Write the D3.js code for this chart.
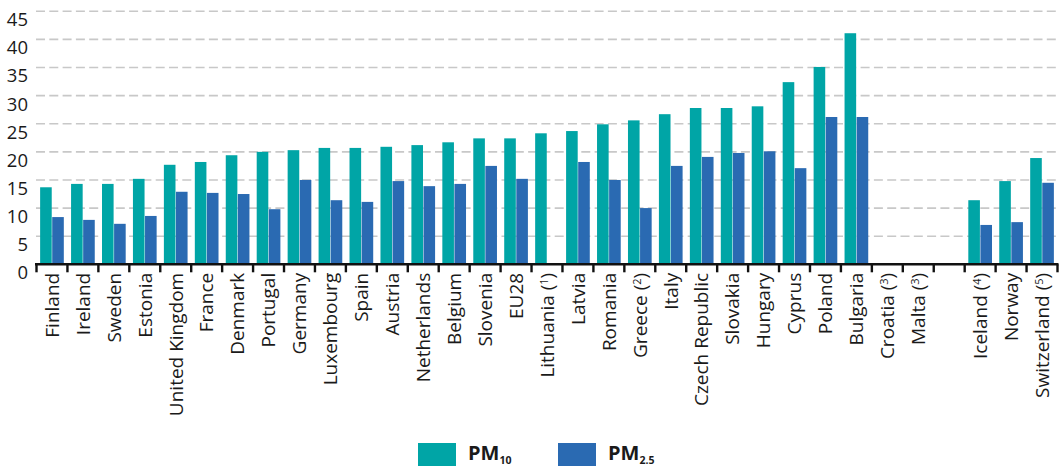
<!DOCTYPE html>
<html>
<head>
<meta charset="utf-8">
<script src="https://cdn.jsdelivr.net/npm/d3@7"></script>
<style>
  html, body { margin: 0; padding: 0; background: #fff; }
  svg { display: block; }
  text { font-family: "Open Sans", "Noto Sans", sans-serif; fill: #1a1a1a; }
</style>
</head>
<body>
<svg id="chart" width="1059" height="466"></svg>
<script>
// ---- data ----
const categories = ["Finland", "Ireland", "Sweden", "Estonia", "United Kingdom", "France", "Denmark",
  "Portugal", "Germany", "Luxembourg", "Spain", "Austria", "Netherlands", "Belgium", "Slovenia", "EU28",
  "Lithuania", "Latvia", "Romania", "Greece", "Italy", "Czech Republic", "Slovakia", "Hungary", "Cyprus",
  "Poland", "Bulgaria", "Croatia", "Malta", "", "Iceland", "Norway", "Switzerland"];
const noteMarks = ["", "", "", "", "", "", "", "", "", "", "", "", "", "", "", "",
  "1", "", "", "2", "", "", "", "", "", "", "", "3", "3", "", "4", "", "5"];
const pm10 = [13.7, 14.3, 14.3, 15.2, 17.7, 18.2, 19.4, 20.0, 20.3, 20.7, 20.7, 20.9, 21.2, 21.7, 22.4, 22.4,
  23.3, 23.7, 24.9, 25.6, 26.7, 27.8, 27.8, 28.1, 32.4, 35.1, 41.1, null, null, null, 11.4, 14.8, 18.9];
const pm25 = [8.4, 7.9, 7.2, 8.6, 12.9, 12.7, 12.5, 9.8, 15.0, 11.4, 11.1, 14.8, 13.9, 14.3, 17.5, 15.2,
  null, 18.2, 15.0, 10.0, 17.5, 19.1, 19.8, 20.1, 17.1, 26.2, 26.2, null, null, null, 7.0, 7.5, 14.5];
const yTicks = [0, 5, 10, 15, 20, 25, 30, 35, 40, 45];
const seriesKeys = ["pm10", "pm25"];
const seriesColors = ["#00a5a6", "#2a6ab2"];
const seriesSubs = ["10", "2.5"];

// ---- chart ----
const svg = d3.select("#chart");
const x = d3.scaleBand().domain(d3.range(categories.length)).range([36.5, 1057.5]).paddingInner(0).paddingOuter(0);
const xs = d3.scaleBand().domain(seriesKeys).range([0, x.bandwidth()]).paddingInner(0.04).paddingOuter(0.3);
const y = d3.scaleLinear().domain([0, 45]).range([264.3, 11.3]);
const color = d3.scaleOrdinal().domain(seriesKeys).range(seriesColors);

// gridlines
svg.append("g").selectAll("line").data(yTicks.filter(d => d > 0)).join("line")
  .attr("x1", 36).attr("x2", 1059)
  .attr("y1", d => y(d)).attr("y2", d => y(d))
  .attr("stroke", "#c8c8c8").attr("stroke-width", 1.6).attr("stroke-dasharray", "9,4.3");

// y labels (sit slightly below their gridlines, as in the reference)
svg.append("g").selectAll("text").data(yTicks).join("text")
  .attr("x", 28).attr("y", d => y(d) + 8.3).attr("dy", "0.36em")
  .attr("text-anchor", "end").attr("font-size", 18.5)
  .text(d => d);

// bars
const rows = categories.map((c, i) => ({ i, pm10: pm10[i], pm25: pm25[i] }));
const groups = svg.append("g").selectAll("g").data(rows).join("g")
  .attr("transform", d => `translate(${x(d.i)},0)`);
groups.selectAll("rect").data(d => seriesKeys.map(k => ({ k, v: d[k] })).filter(e => e.v != null)).join("rect")
  .attr("x", e => xs(e.k)).attr("width", xs.bandwidth())
  .attr("y", e => y(e.v)).attr("height", e => y(0) - y(e.v))
  .attr("fill", e => color(e.k));

// x axis
const axisG = svg.append("g");
axisG.append("line").attr("x1", 35).attr("x2", 1058.5).attr("y1", y(0)).attr("y2", y(0))
  .attr("stroke", "#111").attr("stroke-width", 2.6);
const tickPos = d3.range(categories.length + 1).map(i => x.range()[0] + i * x.step());
axisG.selectAll("line.tick").data(tickPos).join("line").attr("class", "tick")
  .attr("x1", d => d).attr("x2", d => d).attr("y1", y(0)).attr("y2", y(0) + 8)
  .attr("stroke", "#111").attr("stroke-width", 2.4);

// x labels
const labels = axisG.selectAll("text.xl").data(categories.map((c, i) => ({ c, i, n: noteMarks[i] }))).join("text")
  .attr("class", "xl")
  .attr("text-anchor", "end").attr("font-size", 19)
  .attr("transform", d => `translate(${x(d.i) + x.bandwidth() / 2 + 6.8},${y(0) + 8.5}) rotate(-90)`);
labels.each(function(d) {
  const t = d3.select(this);
  t.append("tspan").text(d.c + (d.n ? " (" : ""));
  if (d.n) {
    t.append("tspan").attr("font-size", 11).attr("dy", -6).text(d.n);
    t.append("tspan").attr("dy", 6).text(")");
  }
});

// legend
const legX = [418, 558];
const leg = svg.append("g").selectAll("g").data(seriesKeys).join("g")
  .attr("transform", (d, i) => `translate(${legX[i]},443)`);
leg.append("rect").attr("width", 38).attr("height", 26).attr("fill", d => color(d));
const lt = leg.append("text").attr("x", 50).attr("y", 17).attr("font-size", 20).attr("font-weight", "bold");
lt.append("tspan").text("PM");
lt.append("tspan").attr("font-size", 10.5).attr("dy", 4).text((d, i) => seriesSubs[i]);
</script>
</body>
</html>
